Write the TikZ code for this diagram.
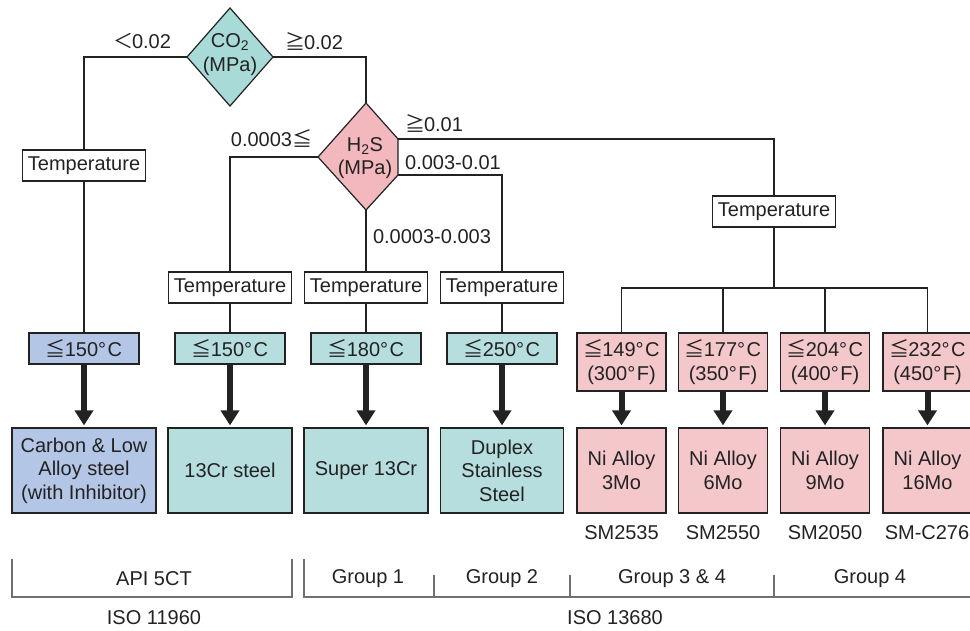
\documentclass[tikz,border=0pt]{standalone}
\usepackage{fontspec}
\setmainfont{Liberation Sans}
\newfontfamily\cjk{Noto Sans CJK JP}
\usetikzlibrary{arrows.meta}
\definecolor{tealbox}{HTML}{B6DEDF}
\definecolor{bluebox}{HTML}{B3C6E5}
\definecolor{pinkbox}{HTML}{F4C7CB}
\definecolor{tealdia}{HTML}{A8DAD8}
\definecolor{pinkdia}{HTML}{F2B8BD}
\definecolor{ink}{HTML}{222222}
\definecolor{rulegray}{HTML}{707070}
\newcommand\mle{{\cjk ≦}\kern-1pt}
\newcommand\mge{{\cjk ≧}\kern-1pt}
\newcommand\mlt{{\cjk ＜}\kern-1pt}
\newcommand\dg{°\kern1.5pt}
\begin{document}
\begin{tikzpicture}[x=1pt,y=-1pt,
  every node/.style={font=\fontsize{20}{23.5}\selectfont, inner sep=0pt, align=center, text=ink},
  box/.style={draw=ink, line width=1.2pt},
  tempbox/.style={box, fill=white, minimum width=123, minimum height=31},
  rangebox/.style={box, minimum width=110, minimum height=31},
  pinkrange/.style={box, fill=pinkbox, minimum width=89, minimum height=58},
  matbox/.style={box, minimum height=85},
  conn/.style={draw=ink, line width=1.3pt},
  fat/.style={draw=ink, line width=6pt, -{Triangle[width=18pt,length=15pt]}, shorten >=2pt},
  rulel/.style={draw=rulegray, line width=1.1pt},
  dia/.style={draw=ink, line width=1.2pt, line join=miter}
]
\useasboundingbox (0,0) rectangle (970,630);

% diamonds
\coordinate (co2T) at (230,8);
\coordinate (co2L) at (187,57);
\coordinate (co2R) at (273,57);
\coordinate (co2B) at (230,106);
\filldraw[dia, fill=tealdia] (co2T) -- (co2R) -- (co2B) -- (co2L) -- cycle;
\node (co2) at (230,54.5) {CO\textsubscript{2}\\(MPa)};

\coordinate (h2T) at (366,103);
\coordinate (h2L) at (318,157);
\coordinate (h2B) at (366,210);
\coordinate (h2Ra) at (398,139);
\coordinate (h2Rb) at (398,175);
\filldraw[dia, fill=pinkdia] (h2T) -- (h2Ra) -- (h2Rb) -- (h2B) -- (h2L) -- cycle;
\node (h2s) at (365,158) {H\textsubscript{2}S\\(MPa)};

% temperature boxes
\node[tempbox] (T0) at (84,165.5) {Temperature};
\node[tempbox] (T1) at (230,287.5) {Temperature};
\node[tempbox] (T2) at (366,287.5) {Temperature};
\node[tempbox] (T3) at (502,287.5) {Temperature};
\node[tempbox] (T4) at (774,211.5) {Temperature};

% range boxes
\node[rangebox, fill=bluebox] (R0) at (84,348.5) {\mle150\dg C};
\node[rangebox, fill=tealbox] (R1) at (230,348.5) {\mle150\dg C};
\node[rangebox, fill=tealbox] (R2) at (366,348.5) {\mle180\dg C};
\node[rangebox, fill=tealbox] (R3) at (502,348.5) {\mle250\dg C};
\node[pinkrange] (P1) at (621.5,362) {\mle149\dg C\\(300\dg F)};
\node[pinkrange] (P2) at (723,362) {\mle177\dg C\\(350\dg F)};
\node[pinkrange] (P3) at (825,362) {\mle204\dg C\\(400\dg F)};
\node[pinkrange] (P4) at (927.5,362) {\mle232\dg C\\(450\dg F)};

% material boxes
\node[matbox, fill=bluebox, minimum width=144] (M0) at (84,470.5) {Carbon \& Low\\Alloy steel\\(with Inhibitor)};
\node[matbox, fill=tealbox, minimum width=124] (M1) at (230,470.5) {13Cr steel};
\node[matbox, fill=tealbox, minimum width=124] (M2) at (366,470.5) {Super 13Cr};
\node[matbox, fill=tealbox, minimum width=123] (M3) at (502,470.5) {Duplex\\Stainless\\Steel};
\node[matbox, fill=pinkbox, minimum width=89] (N1) at (621.5,470.5) {Ni Alloy\\3Mo};
\node[matbox, fill=pinkbox, minimum width=89] (N2) at (723,470.5) {Ni Alloy\\6Mo};
\node[matbox, fill=pinkbox, minimum width=89] (N3) at (825,470.5) {Ni Alloy\\9Mo};
\node[matbox, fill=pinkbox, minimum width=89] (N4) at (927.5,470.5) {Ni Alloy\\16Mo};

% SM labels
\node (s1) at (621.5,533) {SM2535};
\node (s2) at (723,533) {SM2550};
\node (s3) at (825,533) {SM2050};
\node (s4) at (927,533) {SM-C276};

% branch labels
\node (l1) at (142,41) {\mlt0.02};
\node (l2) at (314,41) {\mge0.02};
\node (l3) at (271,138) {0.0003\mle};
\node (l4) at (434,123) {\mge0.01};
\node (l5) at (453,163) {0.003-0.01};
\node (l6) at (432,237) {0.0003-0.003};

% connectors
\draw[conn] (co2L) -| (T0.north);
\draw[conn] (co2R) -| (h2T);
\draw[conn] (T0.south) -- (R0.north);
\draw[conn] (h2L) -| (T1.north);
\draw[conn] (h2B) -- (T2.north);
\draw[conn] (h2Rb) -| (T3.north);
\draw[conn] (h2Ra) -| (T4.north);
\draw[conn] (T1.south) -- (R1.north);
\draw[conn] (T2.south) -- (R2.north);
\draw[conn] (T3.south) -- (R3.north);
\coordinate (hub) at (774,288);
\draw[conn] (T4.south) -- (hub);
\draw[conn] (P1.north) |- (hub) -| (P4.north);
\draw[conn] (P2.north) -- (P2.north |- hub);
\draw[conn] (P3.north) -- (P3.north |- hub);

% thick arrows
\draw[fat] (R0.south) -- (M0.north);
\draw[fat] (R1.south) -- (M1.north);
\draw[fat] (R2.south) -- (M2.north);
\draw[fat] (R3.south) -- (M3.north);
\draw[fat] (P1.south) -- (N1.north);
\draw[fat] (P2.south) -- (N2.north);
\draw[fat] (P3.south) -- (N3.north);
\draw[fat] (P4.south) -- (N4.north);

% standards brackets
\draw[rulel] (12,559) -- (12,597) -- (292,597) -- (292,559);
\draw[rulel] (304,559) -- (304,597) -- (970,597);
\draw[rulel] (434,575) -- (434,597);
\draw[rulel] (570,575) -- (570,597);
\draw[rulel] (774,575) -- (774,597);
\node (api) at (154,579) {API 5CT};
\node (g1) at (368,579) {Group 1};
\node (g2) at (502,579) {Group 2};
\node (g34) at (672,579) {Group 3 \& 4};
\node (g4) at (870,579) {Group 4};
\node (iso1) at (154,618) {ISO 11960};
\node (iso2) at (615,618) {ISO 13680};
\end{tikzpicture}
\end{document}
